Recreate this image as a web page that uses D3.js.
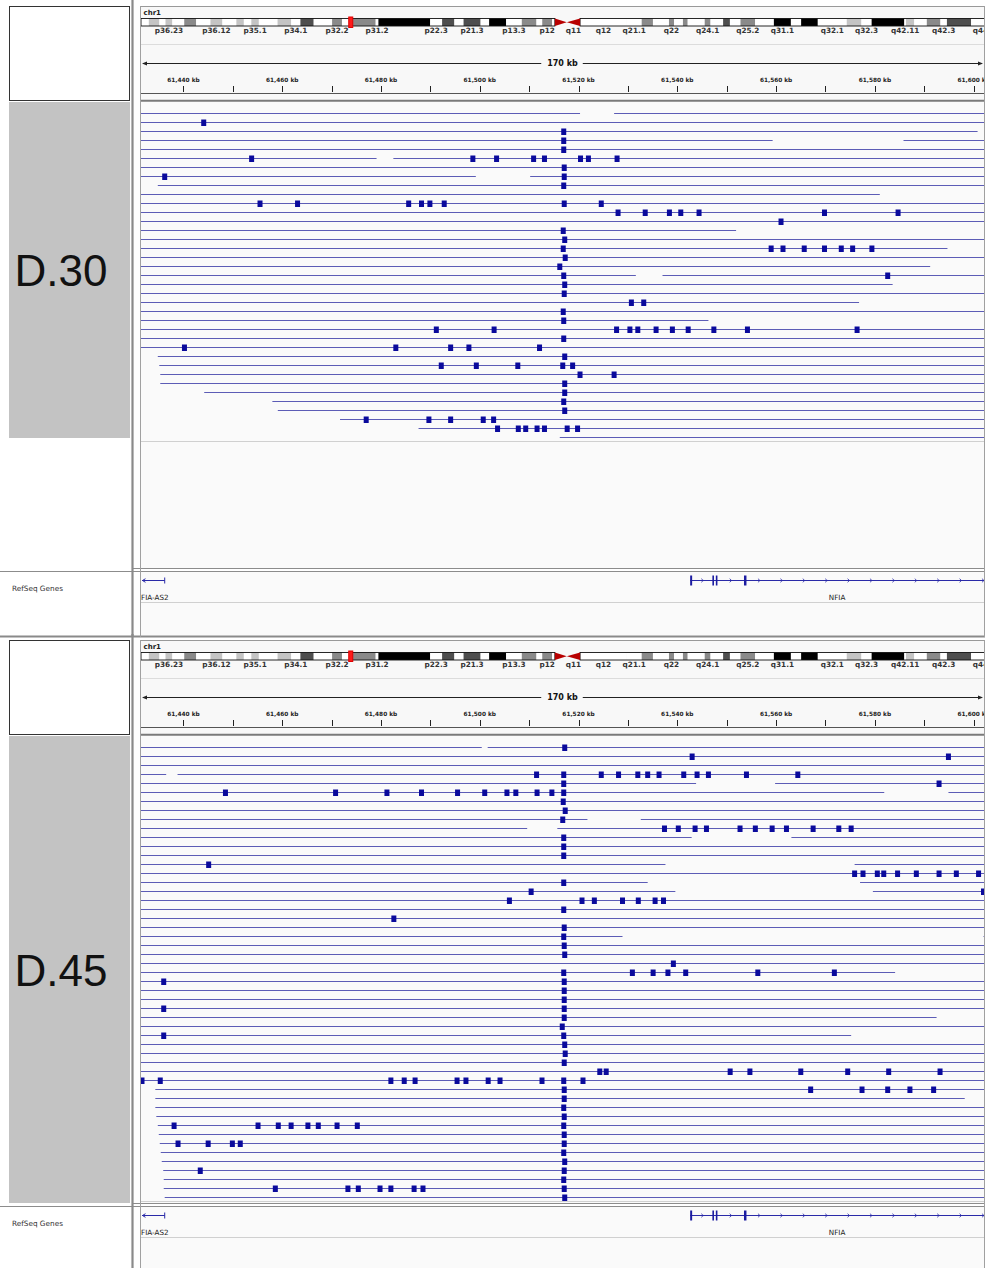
<!DOCTYPE html>
<html>
<head>
<meta charset="utf-8">
<script src="https://cdn.jsdelivr.net/npm/d3@7"></script>
<style>
  body { margin: 0; background: #fff; }
  svg { display: block; font-family: "DejaVu Sans", sans-serif; }
</style>
</head>
<body>
<svg id="chart"></svg>
<script>
// visible window on chr1, in kb
const viewKb = [61431.4, 61602.1];
const spanLabel = "170 kb";
const chromName = "chr1";
const ticksKb = [61440, 61450, 61460, 61470, 61480, 61490, 61500, 61510, 61520,
  61530, 61540, 61550, 61560, 61570, 61580, 61590, 61600];
const tickLabels = { 61440: "61,440 kb", 61460: "61,460 kb", 61480: "61,480 kb", 61500: "61,500 kb",
  61520: "61,520 kb", 61540: "61,540 kb", 61560: "61,560 kb", 61580: "61,580 kb", 61600: "61,600 kb" };

// chr1 cytobands (Mb): name, start, end, stain
const chrLengthMb = 249.25;
const cytobands = [
  ["p36.33", 0, 2.3, "gneg"], ["p36.32", 2.3, 5.4, "gpos25"], ["p36.31", 5.4, 7.2, "gneg"],
  ["p36.23", 7.2, 9.2, "gpos25"], ["p36.22", 9.2, 12.7, "gneg"], ["p36.21", 12.7, 16.2, "gpos50"],
  ["p36.13", 16.2, 20.4, "gneg"], ["p36.12", 20.4, 23.9, "gpos25"], ["p36.11", 23.9, 28.0, "gneg"],
  ["p35.3", 28.0, 30.2, "gpos25"], ["p35.2", 30.2, 32.4, "gneg"], ["p35.1", 32.4, 34.6, "gpos25"],
  ["p34.3", 34.6, 40.1, "gneg"], ["p34.2", 40.1, 44.1, "gpos25"], ["p34.1", 44.1, 46.8, "gneg"],
  ["p33", 46.8, 50.7, "gpos75"], ["p32.3", 50.7, 56.1, "gneg"], ["p32.2", 56.1, 59.0, "gpos50"],
  ["p32.1", 59.0, 61.3, "gneg"], ["p31.3", 61.3, 68.9, "gpos50"], ["p31.2", 68.9, 69.7, "gneg"],
  ["p31.1", 69.7, 84.9, "gpos100"], ["p22.3", 84.9, 88.4, "gneg"], ["p22.2", 88.4, 92.0, "gpos75"],
  ["p22.1", 92.0, 94.7, "gneg"], ["p21.3", 94.7, 99.7, "gpos75"], ["p21.2", 99.7, 102.2, "gneg"],
  ["p21.1", 102.2, 107.2, "gpos100"], ["p13.3", 107.2, 111.8, "gneg"], ["p13.2", 111.8, 116.1, "gpos50"],
  ["p13.1", 116.1, 117.8, "gneg"], ["p12", 117.8, 120.7, "gpos50"], ["p11.2", 120.7, 121.5, "gneg"],
  ["p11.1", 121.5, 125.0, "acen"], ["q11", 125.0, 128.9, "acen"], ["q12", 128.9, 142.6, "gvar"],
  ["q21.1", 142.6, 147.0, "gneg"], ["q21.2", 147.0, 150.3, "gpos50"], ["q21.3", 150.3, 155.0, "gneg"],
  ["q22", 155.0, 156.5, "gpos50"], ["q23.1", 156.5, 159.1, "gneg"], ["q23.2", 159.1, 160.5, "gpos50"],
  ["q23.3", 160.5, 165.5, "gneg"], ["q24.1", 165.5, 167.2, "gpos50"], ["q24.2", 167.2, 170.9, "gneg"],
  ["q24.3", 170.9, 172.9, "gpos75"], ["q25.1", 172.9, 176.0, "gneg"], ["q25.2", 176.0, 180.3, "gpos50"],
  ["q25.3", 180.3, 185.8, "gneg"], ["q31.1", 185.8, 190.8, "gpos100"], ["q31.2", 190.8, 193.8, "gneg"],
  ["q31.3", 193.8, 198.7, "gpos100"], ["q32.1", 198.7, 207.2, "gneg"], ["q32.2", 207.2, 211.5, "gpos25"],
  ["q32.3", 211.5, 214.5, "gneg"], ["q41", 214.5, 224.1, "gpos100"], ["q42.11", 224.1, 224.6, "gneg"],
  ["q42.12", 224.6, 227.0, "gpos25"], ["q42.13", 227.0, 230.7, "gneg"], ["q42.2", 230.7, 234.7, "gpos50"],
  ["q42.3", 234.7, 236.6, "gneg"], ["q43", 236.6, 243.7, "gpos75"], ["q44", 243.7, 249.25, "gneg"]
];
const shownBandLabels = ["p36.23", "p36.12", "p35.1", "p34.1", "p32.2", "p31.2", "p22.3", "p21.3",
  "p13.3", "p12", "q11", "q12", "q21.1", "q22", "q24.1", "q25.2", "q31.1", "q32.1", "q32.3",
  "q42.11", "q42.3", "q44"];

// reads: one entry per row, snv = variant positions (kb), seg = covered spans (kb)
const EDGE_L = 61425, EDGE_R = 61610;
const r = (snv, seg) => ({ snv: snv, seg: seg || [[EDGE_L, EDGE_R]] });

const d30Rows = [
  r([], [[EDGE_L, 61520.3], [61527.2, EDGE_R]]),
  r([61444.1]),
  r([61517.0], [[EDGE_L, 61600.8]]),
  r([61517.0], [[EDGE_L, 61559.3], [61585.8, EDGE_R]]),
  r([61517.0]),
  r([61453.8, 61498.6, 61503.4, 61510.9, 61513.1, 61520.4, 61522.0, 61527.8], [[EDGE_L, 61479.1], [61482.5, EDGE_R]]),
  r([61517.1]),
  r([61436.2, 61517.1], [[EDGE_L, 61499.2], [61510.2, EDGE_R]]),
  r([61517.0], [[61434.8, EDGE_R]]),
  r([], [[EDGE_L, 61581.0]]),
  r([61455.5, 61463.1, 61485.6, 61488.2, 61489.9, 61492.8, 61517.1, 61524.6]),
  r([61528.0, 61533.5, 61538.4, 61540.7, 61544.4, 61569.8, 61584.7]),
  r([61561.0]),
  r([61516.9], [[EDGE_L, 61551.9]]),
  r([61517.2]),
  r([61516.9, 61559.0, 61561.4, 61565.7, 61569.8, 61573.2, 61575.5, 61579.4], [[EDGE_L, 61594.7]]),
  r([61517.3]),
  r([61516.2], [[EDGE_L, 61591.2]]),
  r([61517.0, 61582.6], [[EDGE_L, 61531.6], [61537.0, EDGE_R]]),
  r([61517.2], [[EDGE_L, 61583.6]]),
  r([61517.1]),
  r([61530.7, 61533.2], [[EDGE_L, 61576.8]]),
  r([61516.9]),
  r([61517.0], [[EDGE_L, 61546.3]]),
  r([61491.2, 61502.9, 61527.7, 61530.4, 61532.0, 61535.7, 61539.0, 61542.2, 61547.4, 61554.2, 61576.4]),
  r([61517.0]),
  r([61440.2, 61483.0, 61494.1, 61497.8, 61512.1]),
  r([61517.2], [[61434.8, EDGE_R]]),
  r([61492.2, 61499.3, 61507.7, 61516.8, 61518.8], [[61435.1, EDGE_R]]),
  r([61520.3, 61527.2], [[61435.3, EDGE_R]]),
  r([61517.2], [[61435.3, EDGE_R]]),
  r([61517.2], [[61444.2, EDGE_R]]),
  r([61517.0], [[61458.0, EDGE_R]]),
  r([61517.2], [[61459.1, EDGE_R]]),
  r([61477.0, 61489.7, 61494.1, 61500.7, 61502.8], [[61471.7, EDGE_R]]),
  r([61503.6, 61507.8, 61509.3, 61511.6, 61513.1, 61517.7, 61519.8], [[61487.6, EDGE_R]]),
  r([], [[61516.2, EDGE_R]])
];

const d45Rows = [
  r([61517.2], [[EDGE_L, 61500.4], [61501.6, EDGE_R]]),
  r([61543.0, 61594.9]),
  r([]),
  r([61511.5, 61517.0, 61524.6, 61528.1, 61532.0, 61534.0, 61536.3, 61541.3, 61544.0, 61546.3, 61554.0, 61564.4], [[EDGE_L, 61436.5], [61438.8, EDGE_R]]),
  r([61517.0, 61593.0], [[EDGE_L, 61543.8], [61559.8, EDGE_R]]),
  r([61448.5, 61470.8, 61481.2, 61488.2, 61495.5, 61501.0, 61505.5, 61507.3, 61511.6, 61514.6, 61517.0], [[EDGE_L, 61581.9], [61594.9, EDGE_R]]),
  r([61516.9]),
  r([61517.3]),
  r([61516.8], [[EDGE_L, 61521.8], [61532.6, EDGE_R]]),
  r([61537.4, 61540.2, 61543.6, 61545.9, 61552.7, 61555.8, 61559.2, 61562.1, 61567.5, 61572.7, 61575.2], [[EDGE_L, 61509.6], [61515.7, EDGE_R]]),
  r([61517.0], [[EDGE_L, 61542.9], [61563.1, EDGE_R]]),
  r([61517.0]),
  r([61517.0]),
  r([61445.1], [[EDGE_L, 61537.6], [61575.9, EDGE_R]]),
  r([61575.9, 61577.6, 61580.5, 61581.8, 61584.6, 61588.4, 61593.0, 61596.5, 61601.0]),
  r([61517.0], [[EDGE_L, 61534.0], [61577.0, EDGE_R]]),
  r([61510.4, 61602.0], [[EDGE_L, 61539.6], [61579.6, EDGE_R]]),
  r([61506.0, 61520.7, 61523.2, 61528.9, 61532.1, 61535.5, 61537.2]),
  r([61517.0]),
  r([61482.6]),
  r([61517.1]),
  r([61517.0], [[EDGE_L, 61528.9], [61602.0, EDGE_R]]),
  r([61517.1]),
  r([61517.2]),
  r([61539.2]),
  r([61517.0, 61530.9, 61535.1, 61538.1, 61541.7, 61556.3, 61571.8], [[EDGE_L, 61584.1]]),
  r([61436.0, 61517.1]),
  r([61517.1]),
  r([61517.1]),
  r([61436.0, 61517.1]),
  r([61517.1], [[EDGE_L, 61592.5]]),
  r([61516.7]),
  r([61436.0, 61517.0], [[EDGE_L, 61575.2]]),
  r([61517.2]),
  r([61517.3]),
  r([61517.1]),
  r([61524.3, 61525.6, 61550.7, 61554.7, 61565.0, 61574.5, 61582.8, 61593.2]),
  r([61431.6, 61435.3, 61482.0, 61484.7, 61486.9, 61495.4, 61497.2, 61501.7, 61504.1, 61512.6, 61517.0, 61520.9]),
  r([61517.1, 61567.0, 61577.4, 61582.6, 61587.1, 61591.9], [[61434.3, EDGE_R]]),
  r([61517.1], [[61434.3, 61598.2]]),
  r([61517.0], [[61434.3, EDGE_R]]),
  r([61517.1], [[61434.5, EDGE_R]]),
  r([61438.1, 61455.1, 61459.2, 61461.8, 61465.2, 61467.3, 61471.1, 61475.2, 61517.0], [[61434.8, EDGE_R]]),
  r([61517.1], [[61435.0, EDGE_R]]),
  r([61438.9, 61445.0, 61449.9, 61451.5, 61517.1], [[61435.2, EDGE_R]]),
  r([61517.0], [[61435.4, EDGE_R]]),
  r([61517.2], [[61435.6, EDGE_R]]),
  r([61443.4, 61517.1], [[61435.9, EDGE_R]]),
  r([61517.0], [[61436.0, EDGE_R]]),
  r([61458.6, 61473.3, 61475.4, 61479.8, 61482.0, 61486.7, 61488.5, 61517.1], [[61436.0, EDGE_R]]),
  r([61517.2], [[61436.2, EDGE_R]])
];

// RefSeq genes (kb)
const genes = [
  { name: "NFIA-AS2", strand: "-", start: 61400.0, end: 61436.2, exons: [] },
  { name: "NFIA", strand: "+", start: 61542.6, end: 61700.0,
    exons: [[61542.6, 61543.0], [61547.1, 61547.4], [61547.8, 61548.1], [61553.5, 61554.0]] }
];

const panels = [
  { name: "D.30", offset: 0, rows: d30Rows, boxBottom: 438, trackBottom: 569 },
  { name: "D.45", offset: 634, rows: d45Rows, boxBottom: 569, trackBottom: 570 }
];

const W = 986, H = 1268;
const left = 141, right = 984;
const readColor = "#5c5cb6", snvColor = "#0a0a9c";
const stainColor = { gneg: "#ffffff", gpos25: "#c4c4c4", gpos50: "#8a8a8a", gpos75: "#4e4e4e",
  gpos100: "#000000", gvar: "#ffffff" };

const svg = d3.select("#chart").attr("width", W).attr("height", H);
svg.append("rect").attr("width", W).attr("height", H).attr("fill", "#fff");

const defs = svg.append("defs");
defs.append("clipPath").attr("id", "dataClip")
  .append("rect").attr("x", left).attr("y", -10).attr("width", right - left).attr("height", 1400);

const x = d3.scaleLinear().domain(viewKb).range([left, right]);
const chrX = d3.scaleLinear().domain([0, chrLengthMb]).range([141, 990]);

function drawPanel(p) {
  const g = svg.append("g").attr("transform", `translate(0,${p.offset})`);
  const rowY = d3.scaleLinear().domain([0, 1]).range([112.5, 121.5]);
  const refTop = p.trackBottom + 3;

  // ---------- header ----------
  g.append("rect").attr("x", 9.5).attr("y", 6.5).attr("width", 120).attr("height", 94)
    .attr("fill", "#fff").attr("stroke", "#333");
  g.append("rect").attr("x", 140.5).attr("y", 6.5).attr("width", 844).attr("height", 94)
    .attr("fill", "#f8f8f8").attr("stroke", "#999");
  g.append("line").attr("x1", 141).attr("x2", right).attr("y1", 44.5).attr("y2", 44.5)
    .attr("stroke", "#dcdcdc");

  g.append("text").attr("x", 143.5).attr("y", 14.5).text(chromName)
    .style("font-size", "7px").style("font-weight", "bold").attr("fill", "#222");

  // ideogram
  const ideo = g.append("g").attr("clip-path", "url(#dataClip)");
  const iy = 18.5, ih = 7.5;
  const plain = cytobands.filter((b) => b[3] !== "acen");
  ideo.selectAll("rect.band").data(plain).join("rect").attr("class", "band")
    .attr("x", (b) => chrX(b[1])).attr("y", iy)
    .attr("width", (b) => chrX(b[2]) - chrX(b[1])).attr("height", ih)
    .attr("fill", (b) => stainColor[b[3]]);
  const pEnd = cytobands.find((b) => b[0] === "p11.1");
  const qStart = cytobands.find((b) => b[0] === "q11");
  ideo.append("rect").attr("x", chrX(0)).attr("y", iy).attr("width", chrX(pEnd[1]) - chrX(0))
    .attr("height", ih).attr("fill", "none").attr("stroke", "#111").attr("stroke-width", 0.9);
  ideo.append("rect").attr("x", chrX(qStart[2])).attr("y", iy)
    .attr("width", chrX(chrLengthMb) - chrX(qStart[2])).attr("height", ih)
    .attr("fill", "none").attr("stroke", "#111").attr("stroke-width", 0.9);
  // centromere
  const cx = chrX(pEnd[2]);
  ideo.append("path")
    .attr("d", `M${chrX(pEnd[1])},${iy}L${cx},${iy + ih / 2}L${chrX(pEnd[1])},${iy + ih}Z`)
    .attr("fill", "#b80000");
  ideo.append("path")
    .attr("d", `M${chrX(qStart[2])},${iy}L${cx},${iy + ih / 2}L${chrX(qStart[2])},${iy + ih}Z`)
    .attr("fill", "#b80000");
  // current view marker
  const vx0 = chrX(viewKb[0] / 1000), vx1 = chrX(viewKb[1] / 1000);
  ideo.append("rect").attr("x", vx0 - 1.5).attr("y", iy - 1.5)
    .attr("width", Math.max(4, vx1 - vx0 + 3)).attr("height", ih + 3)
    .attr("fill", "#ff1a1a").attr("stroke", "#e00000");

  const labelled = cytobands.filter((b) => shownBandLabels.includes(b[0]));
  ideo.selectAll("text.band").data(labelled).join("text").attr("class", "band")
    .attr("x", (b) => chrX((b[1] + b[2]) / 2)).attr("y", 33)
    .attr("text-anchor", "middle").text((b) => b[0])
    .style("font-size", "7.3px").style("font-weight", "bold").attr("fill", "#333");

  // span arrow
  const span = g.append("text").attr("x", (left + right) / 2).attr("y", 66.3)
    .attr("text-anchor", "middle").text(spanLabel)
    .style("font-size", "8px").style("font-weight", "bold").attr("fill", "#111");
  const sw = span.node().getComputedTextLength();
  const mid = (left + right) / 2;
  g.append("line").attr("x1", left + 2).attr("x2", mid - sw / 2 - 6).attr("y1", 63.5).attr("y2", 63.5)
    .attr("stroke", "#222");
  g.append("line").attr("x1", mid + sw / 2 + 5).attr("x2", right - 2).attr("y1", 63.5).attr("y2", 63.5)
    .attr("stroke", "#222");
  g.append("path").attr("d", `M${left + 1},63.5L${left + 6},61.5L${left + 6},65.5Z`).attr("fill", "#222");
  g.append("path").attr("d", `M${right - 1},63.5L${right - 6},61.5L${right - 6},65.5Z`).attr("fill", "#222");

  // ruler ticks
  const tg = g.append("g").attr("clip-path", "url(#dataClip)");
  tg.selectAll("line.tick").data(ticksKb).join("line").attr("class", "tick")
    .attr("x1", (d) => Math.round(x(d)) + 0.5).attr("x2", (d) => Math.round(x(d)) + 0.5)
    .attr("y1", 86).attr("y2", 92).attr("stroke", "#222");
  tg.selectAll("text.tick").data(ticksKb.filter((d) => tickLabels[d])).join("text").attr("class", "tick")
    .attr("x", (d) => x(d)).attr("y", 82).attr("text-anchor", "middle")
    .text((d) => tickLabels[d]).style("font-size", "5.8px").style("font-weight", "bold").attr("fill", "#222");
  g.append("line").attr("x1", 141).attr("x2", right).attr("y1", 93.5).attr("y2", 93.5).attr("stroke", "#555");
  g.append("line").attr("x1", 140).attr("x2", 985).attr("y1", 100.8).attr("y2", 100.8)
    .attr("stroke", "#7a7a7a").attr("stroke-width", 2);

  // ---------- alignment track ----------
  g.append("rect").attr("x", 141).attr("y", 102).attr("width", right - 141)
    .attr("height", p.trackBottom - 102).attr("fill", "#fafafa");
  g.append("rect").attr("x", 9).attr("y", 102).attr("width", 121)
    .attr("height", p.boxBottom - 102).attr("fill", "#c3c3c3");
  const boxMid = (102 + p.boxBottom) / 2;
  g.append("text").attr("x", 61).attr("y", boxMid + 16).attr("text-anchor", "middle")
    .text(p.name).style("font-family", "'Liberation Sans', Arial, sans-serif")
    .style("font-size", "44px").attr("fill", "#111");

  const reads = g.append("g").attr("clip-path", "url(#dataClip)");
  const rowG = reads.selectAll("g.row").data(p.rows).join("g").attr("class", "row")
    .attr("transform", (d, i) => `translate(0,${Math.round(rowY(i))})`);
  rowG.selectAll("line").data((d) => d.seg).join("line")
    .attr("x1", (s) => x(s[0])).attr("x2", (s) => x(s[1]))
    .attr("y1", 0.5).attr("y2", 0.5).attr("stroke", readColor).attr("stroke-width", 1.1);
  rowG.selectAll("rect").data((d) => d.snv).join("rect")
    .attr("x", (v) => x(v) - 2.5).attr("y", -2.5).attr("width", 5).attr("height", 6.5)
    .attr("fill", snvColor);

  const lastY = Math.round(rowY(p.rows.length - 1)) + 4.5;
  if (lastY < p.trackBottom - 2) {
    g.append("line").attr("x1", 141).attr("x2", right).attr("y1", lastY).attr("y2", lastY)
      .attr("stroke", "#d0d0d0");
  }
  g.append("line").attr("x1", 133).attr("x2", 985).attr("y1", p.trackBottom - 0.5)
    .attr("y2", p.trackBottom - 0.5).attr("stroke", "#8c8c8c");
  g.append("line").attr("x1", 0).attr("x2", 985).attr("y1", p.trackBottom + 2.5)
    .attr("y2", p.trackBottom + 2.5).attr("stroke", "#8c8c8c");

  // ---------- RefSeq track ----------
  g.append("rect").attr("x", 141).attr("y", refTop).attr("width", right - 141).attr("height", 63)
    .attr("fill", "#fafafa");
  g.append("text").attr("x", 12).attr("y", refTop + 18.5).text("RefSeq Genes")
    .style("font-size", "7.3px").attr("fill", "#333");
  g.append("line").attr("x1", 141).attr("x2", right).attr("y1", refTop + 30.5).attr("y2", refTop + 30.5)
    .attr("stroke", "#d0d0d0");

  const gy = refTop + 8.5;
  const geneG = g.append("g").attr("clip-path", "url(#dataClip)");
  genes.forEach((gene) => {
    const gx0 = Math.max(x(gene.start), left + 1), gx1 = Math.min(x(gene.end), right + 2);
    geneG.append("line").attr("x1", gx0).attr("x2", gx1).attr("y1", gy).attr("y2", gy)
      .attr("stroke", "#2a2aa8");
    if (x(gene.end) < right) {
      geneG.append("line").attr("x1", gx1).attr("x2", gx1).attr("y1", gy - 3).attr("y2", gy + 3)
        .attr("stroke", "#2a2aa8");
    }
    if (gene.strand === "-" && x(gene.start) < left) {
      geneG.append("path").attr("d", `M${left + 1.5},${gy}L${left + 4.5},${gy - 1.8}M${left + 1.5},${gy}L${left + 4.5},${gy + 1.8}`)
        .attr("stroke", "#2a2aa8").attr("fill", "none");
    }
    gene.exons.forEach((e) => {
      geneG.append("rect").attr("x", x(e[0])).attr("y", gy - 5)
        .attr("width", Math.max(1.6, x(e[1]) - x(e[0]))).attr("height", 10).attr("fill", "#1c1ca0");
    });
    // strand chevrons along introns
    if (gene.strand === "+") {
      const cuts = gene.exons.map((e) => [x(e[0]), x(e[1])]);
      const introns = [];
      for (let k = 0; k < cuts.length; k++) {
        const a = cuts[k][1] + 1.5, b = k + 1 < cuts.length ? cuts[k + 1][0] - 1.5 : gx1;
        if (b > a) introns.push([a, b]);
      }
      introns.forEach(([a, b]) => {
        const pts = b - a < 24 ? [(a + b) / 2] : d3.range(a + 11, b, 22.4);
        pts.forEach((px) => {
          geneG.append("path").attr("d", `M${px - 1},${gy - 1.8}L${px + 1},${gy}L${px - 1},${gy + 1.8}`)
            .attr("stroke", "#2a2aa8").attr("fill", "none").attr("stroke-width", 0.8);
        });
      });
    }
    // label centred on the visible part of the gene
    const lx0 = Math.max(x(gene.start), left - 1.5), lx1 = Math.min(x(gene.end), right);
    geneG.append("text").attr("x", (lx0 + lx1) / 2)
      .attr("y", refTop + 28).attr("text-anchor", "middle").text(gene.name)
      .style("font-size", "7.2px").attr("fill", "#222");
  });
  g.append("line").attr("x1", 0).attr("x2", 985).attr("y1", refTop + 64.5).attr("y2", refTop + 64.5)
    .attr("stroke", "#8a8a8a").attr("stroke-width", 2);

  // column dividers
  g.append("line").attr("x1", 132.5).attr("x2", 132.5).attr("y1", 0).attr("y2", refTop + 65)
    .attr("stroke", "#8a8a8a").attr("stroke-width", 2.2);
  g.append("line").attr("x1", 140.5).attr("x2", 140.5).attr("y1", 6).attr("y2", refTop + 65)
    .attr("stroke", "#a0a0a0");
  g.append("line").attr("x1", 984.5).attr("x2", 984.5).attr("y1", 6).attr("y2", refTop + 65)
    .attr("stroke", "#a0a0a0");
}

panels.forEach(drawPanel);
</script>
</body>
</html>
